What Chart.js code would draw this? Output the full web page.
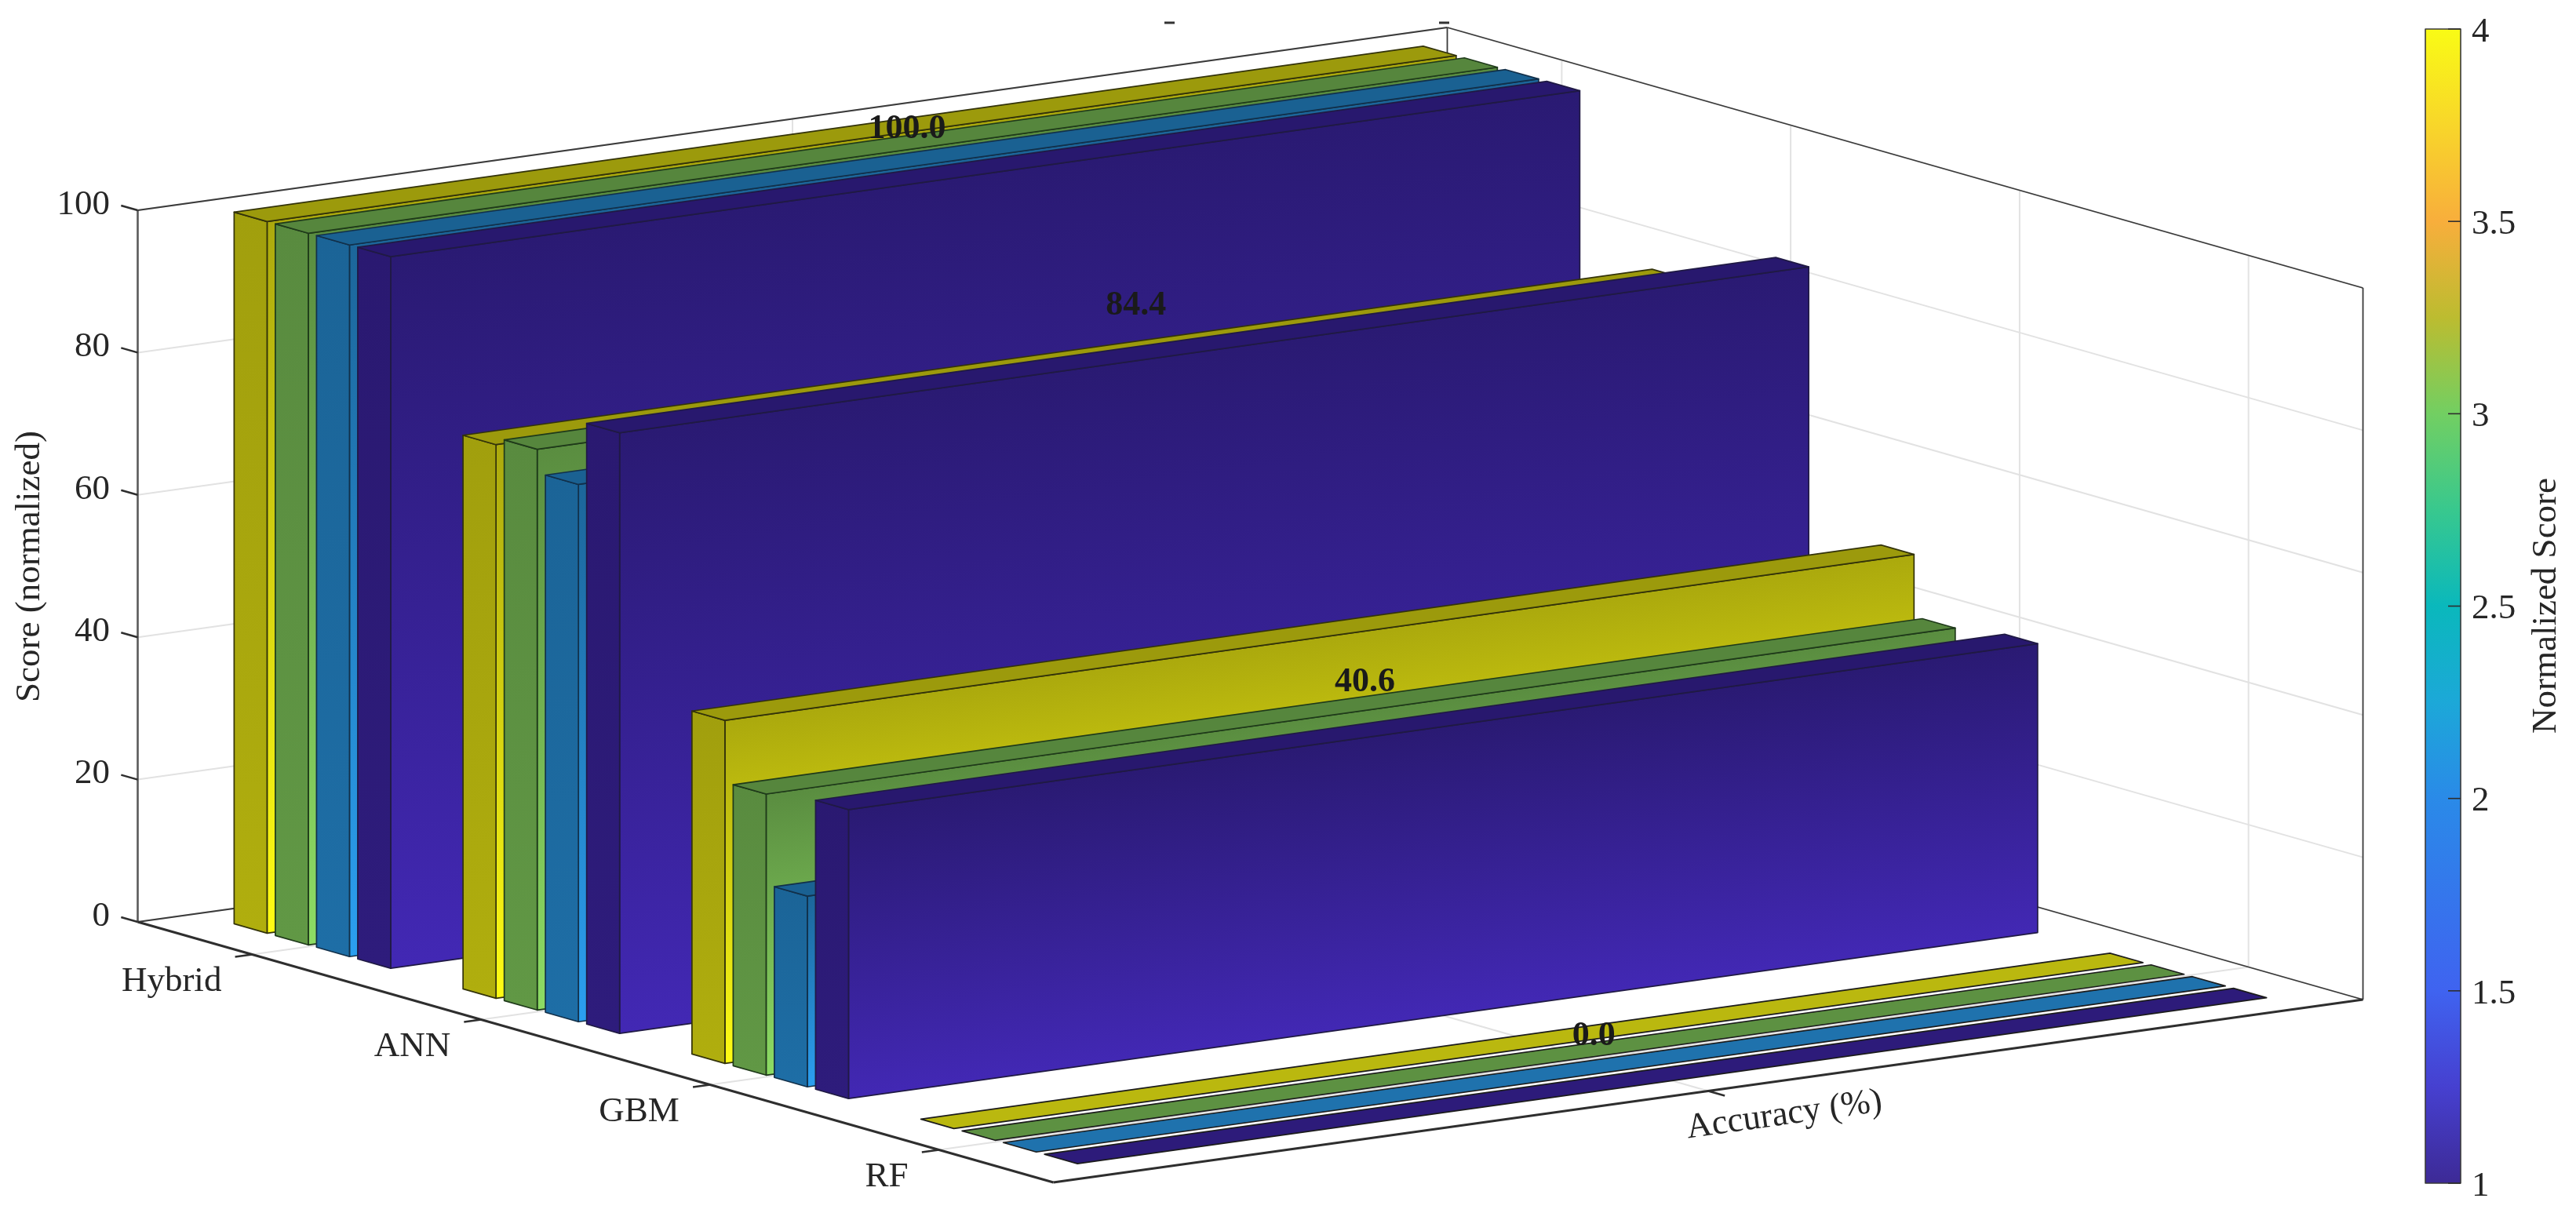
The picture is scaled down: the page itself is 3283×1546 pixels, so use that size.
<!DOCTYPE html>
<html><head><meta charset="utf-8">
<style>html,body{margin:0;padding:0;background:#fff}canvas{display:block}</style>
<script src="https://cdn.jsdelivr.net/npm/chart.js@4"></script>
</head><body><canvas id="c" width="3283" height="1546"></canvas>
<script>
// ---- data ----
const categories = ['Hybrid', 'ANN', 'GBM', 'RF'];
const seriesYellow = [100, 77.8, 48.2, 0];
const seriesGreen  = [100, 78.8, 39.5, 0];
const seriesBlue   = [100, 75.5, 26.8, 0];
const seriesPurple = [100, 84.4, 40.6, 0];
const accuracyLabels = ['Accuracy (%)'];
const scoreTicks = [0, 20, 40, 60, 80, 100];
const colorbarTicks = [1, 1.5, 2, 2.5, 3, 3.5, 4];

// ---- styling ----
const seriesRGB = [[255,252,20],[141,220,100],[43,159,240],[66,40,180]];
const longTopShade = [0.67, 0.64, 0.64, 0.64];
const flatShade = [0.73, 0.66, 0.72, 0.68];
const edgeColors = ['#33330a', '#1f3a1a', '#12304a', '#201a44'];
const colorbarStops = [[1,'#3d2a96'],[1.25,'#4640d0'],[1.5,'#3f63f0'],[2,'#2a8ae8'],[2.25,'#1ca8d8'],[2.5,'#0ab8bc'],
  [2.75,'#38c88e'],[3,'#72cf62'],[3.25,'#bcbc30'],[3.5,'#f8ae3c'],[3.75,'#f8d62a'],[4,'#f9fb15']];
const FRAME = {ox:175.5, oy:1175, ux:1167, uy:332, vx:1669, vy:-233, zy:-907};
const BAR = {step:0.18, width:0.144, half:0.454};
const CB = {l:3091, r:3136, t:37, b:1508};
const SERIF = '"Liberation Serif","Times New Roman",serif';
const INK = '#262626';

const series = [seriesYellow, seriesGreen, seriesBlue, seriesPurple];

const draw3D = {
  id: 'draw3D',
  afterDatasetsDraw(chart) {
    const ctx = chart.ctx, S = chart.scales;
    const dec = (s, v) => s.getDecimalForPixel(s.getPixelForValue(v));
    // decimals along the three scales -> oblique page position
    const at = (u, v, w) => [FRAME.ox + u*FRAME.ux + v*FRAME.vx, FRAME.oy + u*FRAME.uy + v*FRAME.vy + w*FRAME.zy];
    const pr = (c, a, z) => at(dec(S.x, c), dec(S.acc, a), dec(S.y, z));
    const line = (a, b, col, lw) => { ctx.strokeStyle = col; ctx.lineWidth = lw; ctx.beginPath(); ctx.moveTo(a[0],a[1]); ctx.lineTo(b[0],b[1]); ctx.stroke(); };
    const poly = (pts, fill, edge) => {
      ctx.beginPath(); pts.forEach((p,i)=> i?ctx.lineTo(p[0],p[1]):ctx.moveTo(p[0],p[1])); ctx.closePath();
      ctx.fillStyle = fill; ctx.fill();
      ctx.strokeStyle = edge; ctx.lineWidth = 1.7; ctx.lineJoin = 'round'; ctx.stroke();
    };
    const shade = (rgb, f) => `rgb(${rgb.map(c=>Math.round(c*f)).join(',')})`;
    const text = (s, x, y, font, align, rot, col) => {
      ctx.save(); ctx.translate(x,y); if (rot) ctx.rotate(rot);
      ctx.font = font; ctx.fillStyle = col || INK; ctx.textAlign = align; ctx.textBaseline = 'middle';
      ctx.fillText(s,0,0); ctx.restore();
    };
    ctx.save();
    ctx.lineCap = 'butt';
    // ---- grid ----
    const GRID = '#e2e2e2', GW = 2;
    scoreTicks.forEach(t => {
      const w = dec(S.y, t);
      line(at(0,0,w), at(0,1,w), GRID, GW);
      line(at(0,1,w), at(1,1,w), GRID, GW);
    });
    categories.forEach((_, i) => {
      const u = dec(S.x, i);
      line(at(u,0,0), at(u,1,0), GRID, GW);
      line(at(u,1,0), at(u,1,1), GRID, GW);
    });
    const vm = dec(S.acc, 0);
    line(at(0,vm,0), at(1,vm,0), GRID, GW);
    line(at(0,vm,0), at(0,vm,1), GRID, GW);
    // ---- box ----
    const BOX = '#3a3a3a';
    line(at(0,0,0), at(0,0,1), '#5a5a5a', 2.6);
    line(at(0,0,1), at(0,1,1), BOX, 1.8);
    line(at(0,1,1), at(1,1,1), BOX, 1.8);
    line(at(0,1,0), at(0,1,1), BOX, 1.8);
    line(at(1,1,0), at(1,1,1), BOX, 1.8);
    line(at(0,0,0), at(0,1,0), BOX, 1.8);
    line(at(0,1,0), at(1,1,0), BOX, 1.8);
    line(at(0,0,0), at(1,0,0), '#2e2e2e', 3);
    line(at(1,0,0), at(1,1,0), '#2e2e2e', 3);
    // ---- ticks and tick labels ----
    const ulen = Math.hypot(FRAME.ux,FRAME.uy), vlen = Math.hypot(FRAME.vx,FRAME.vy);
    const TL = 22, F = `45px ${SERIF}`;
    scoreTicks.forEach(t => {
      const p = at(0,0,dec(S.y,t));
      const q = [p[0]-TL*FRAME.ux/ulen, p[1]-TL*FRAME.uy/ulen];
      line(p, q, '#2e2e2e', 2.5);
      text(String(t), 140, p[1]-7, F, 'right');
    });
    categories.forEach((name, i) => {
      const p = at(dec(S.x,i),0,0);
      const q = [p[0]-TL*FRAME.vx/vlen, p[1]-TL*FRAME.vy/vlen];
      line(p, q, '#2e2e2e', 2.5);
      text(name, p[0]-39, p[1]+35, F, 'right');
    });
    const pa = at(1,vm,0);
    line(pa, [pa[0]+TL*FRAME.ux/ulen, pa[1]+TL*FRAME.uy/ulen], '#2e2e2e', 2.5);
    const slope = Math.atan2(FRAME.vy, FRAME.vx);
    text(accuracyLabels[0], pa[0]+97, pa[1]+31, F, 'center', slope);
    text('Score (normalized)', 38, 722, F, 'center', -Math.PI/2);
    // ---- bars, far to near ----
    categories.forEach((_, i) => {
      series.forEach((_s, s) => {
        const h = chart.getDatasetMeta(s)._parsed[i].y;
        const c0 = i + (s-1.5)*BAR.step - BAR.width/2, c1 = c0 + BAR.width;
        const a0 = -BAR.half, a1 = BAR.half, rgb = seriesRGB[s], EDGE = edgeColors[s];
        if (h <= 0) {
          poly([pr(c0,a0,0),pr(c1,a0,0),pr(c1,a1,0),pr(c0,a1,0)], shade(rgb, flatShade[s]), '#1c1c1c');
          return;
        }
        // long face: isolines follow the bar's slope
        const tl = pr(c1,a0,h), tr = pr(c1,a1,h), br = pr(c1,a1,0), bl = pr(c1,a0,0);
        const dl = Math.hypot(tr[0]-tl[0],tr[1]-tl[1]);
        const nx = -(tr[1]-tl[1])/dl, ny = (tr[0]-tl[0])/dl, hh = (bl[1]-tl[1])*ny;
        const g = ctx.createLinearGradient(tl[0],tl[1],tl[0]+nx*hh,tl[1]+ny*hh);
        g.addColorStop(0, shade(rgb,longTopShade[s])); g.addColorStop(1, shade(rgb,1));
        poly([tl,tr,br,bl], g, EDGE);
        // end face
        const e0 = pr(c0,a0,h), e1 = pr(c1,a0,h), e2 = pr(c1,a0,0), e3 = pr(c0,a0,0);
        const eg = ctx.createLinearGradient(0,e0[1],0,e2[1]);
        eg.addColorStop(0, shade(rgb,0.63)); eg.addColorStop(1, shade(rgb,0.69));
        poly([e0,e1,e2,e3], eg, EDGE);
        // top face
        poly([pr(c0,a0,h),pr(c1,a0,h),pr(c1,a1,h),pr(c0,a1,h)], shade(rgb,0.61), EDGE);
      });
    });
    // ---- value labels (last series) ----
    const BF = `bold 44px ${SERIF}`;
    categories.forEach((_, i) => {
      const v = chart.getDatasetMeta(3)._parsed[i].y;
      const p = pr(i, 0, v + 3.1);
      text(v.toFixed(1), p[0], p[1], BF, 'center', 0, '#1a1a1a');
    });
    // ---- colorbar ----
    const cy = v => CB.b + (CB.t-CB.b)*dec(S.cb, v);
    const cg = ctx.createLinearGradient(0,CB.b,0,CB.t);
    colorbarStops.forEach(st => cg.addColorStop(dec(S.cb,st[0]), st[1]));
    ctx.fillStyle = cg; ctx.fillRect(CB.l,CB.t,CB.r-CB.l,CB.b-CB.t);
    ctx.strokeStyle = '#3a3a3a'; ctx.lineWidth = 1.6; ctx.strokeRect(CB.l,CB.t,CB.r-CB.l,CB.b-CB.t);
    colorbarTicks.forEach(t => {
      const y = cy(t);
      line([CB.r-16,y],[CB.r,y],'#2e2e2e',1.6);
      text(String(t), 3150, y+4, F, 'left');
    });
    text('Normalized Score', 3245, 772, F, 'center', -Math.PI/2);
    // ---- remnants at the very top edge ----
    line([1484,29],[1497,29],'#333',3);
    line([1834,29],[1847,29],'#333',3);
    ctx.restore();
  }
};

new Chart(document.getElementById('c'), {
  type: 'bar',
  plugins: [draw3D],
  data: {
    labels: categories,
    datasets: series.map((d, s) => ({ label: 'Series ' + (s+1), data: d, backgroundColor: 'rgba(0,0,0,0)', borderWidth: 0 }))
  },
  options: {
    responsive: false, animation: false, devicePixelRatio: 1,
    layout: { padding: 0 },
    plugins: { legend: {display:false}, tooltip: {enabled:false}, title: {display:false} },
    events: [],
    scales: {
      x:   { type:'category', display:false, offset:true },
      acc: { type:'category', axis:'x', labels: accuracyLabels, display:false, offset:true },
      y:   { type:'linear', min:0, max:100, display:false },
      cb:  { type:'linear', axis:'y', min:1, max:4, display:false }
    }
  }
});
</script></body></html>
